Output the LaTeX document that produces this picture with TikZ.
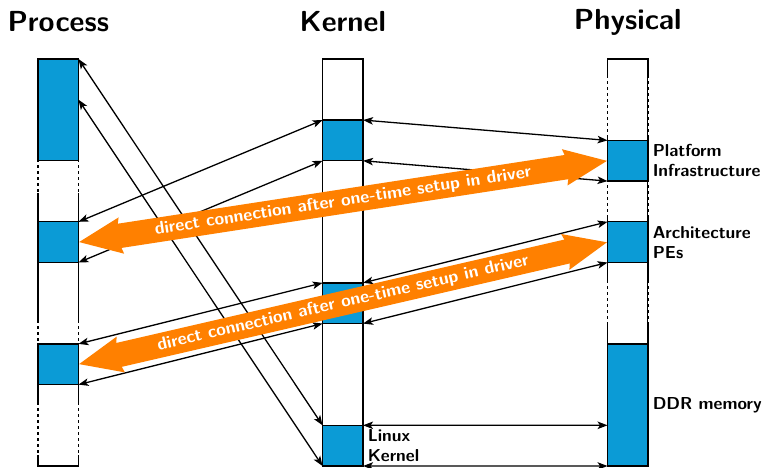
\documentclass[tikz,border=0pt]{standalone}
\usetikzlibrary{arrows.meta,calc}
\definecolor{memblue}{RGB}{11,155,214}
\definecolor{fatorange}{RGB}{255,128,0}
\begin{document}
\begin{tikzpicture}[x=1pt,y=-1pt,
  col/.style={draw=black, line width=1.3pt, minimum width=40.5pt, minimum height=407pt, inner sep=0pt, outer sep=0pt},
  mem/.style={fill=memblue, draw=black, line width=1.3pt, minimum width=40.5pt, inner sep=0pt, outer sep=0pt},
  link/.style={line width=1.3pt, {Stealth[length=10pt,width=7.5pt,inset=2.5pt]}-{Stealth[length=10pt,width=7.5pt,inset=2.5pt]}},
  fat/.style={fatorange, line width=24.5pt, {Stealth[length=42pt,width=34pt,inset=4pt]}-{Stealth[length=42pt,width=34pt,inset=4pt]}},
  fattext/.style={midway, sloped, text=white, inner sep=0pt, font=\sffamily\bfseries\fontsize{17.5}{20}\selectfont},
  title/.style={font=\sffamily\bfseries\fontsize{29}{34}\selectfont, inner sep=0pt},
  lbl/.style={font=\sffamily\bfseries\fontsize{17.3}{20}\selectfont, align=left, anchor=west, inner sep=4.5pt},
  gap/.style={white, line width=1.6pt, dash pattern=on 3pt off 3pt}]
\useasboundingbox (0,0) rectangle (763,467);

% titles
\node[title] (tp) at (58.25,22) {Process};
\node[title] (tk) at (342.8,22) {Kernel};
\node[title] (tf) at (627.8,22) {Physical};

% columns
\node[col] (pcol) at (58.25,262.5) {};
\node[col] (kcol) at (342.8,262.5) {};
\node[col] (fcol) at (627.8,262.5) {};

% memory regions
\node[mem, minimum height=101.75pt] (p1) at (58.25,109.875) {};
\node[mem, minimum height=40.7pt] (p2) at (58.25,242.15) {};
\node[mem, minimum height=40.7pt] (p3) at (58.25,364.25) {};
\node[mem, minimum height=40.7pt] (k1) at (342.8,140.4) {};
\node[mem, minimum height=40.7pt] (k2) at (342.8,303.2) {};
\node[mem, minimum height=40.7pt] (k3) at (342.8,445.65) {};
\node[mem, minimum height=40.7pt] (f1) at (627.8,160.75) {};
\node[mem, minimum height=40.7pt] (f2) at (627.8,242.15) {};
\node[mem, minimum height=122.1pt] (f3) at (627.8,404.95) {};

% dashed gaps in the column borders
\foreach \xx in {38,78.5} {
  \draw[gap] (\xx,162) -- (\xx,193);
  \draw[gap] (\xx,323) -- (\xx,343);
  \draw[gap] (\xx,405) -- (\xx,455);
}
\foreach \xx in {607.3,648.3} {
  \draw[gap] (\xx,78) -- (\xx,137);
  \draw[gap] (\xx,182) -- (\xx,217);
  \draw[gap] (\xx,283) -- (\xx,323);
}

% mappings
\coordinate (p1b) at ($(p1.north east)!0.4!(p1.south east)$);
\coordinate (f3b) at ($(f3.north west)!0.6667!(f3.south west)$);
\draw[link] (p1.north east) -- (k3.north west);
\draw[link] (p1b) -- (k3.south west);
\draw[link] (p2.north east) -- (k1.north west);
\draw[link] (p2.south east) -- (k1.south west);
\draw[link] (p3.north east) -- (k2.north west);
\draw[link] (p3.south east) -- (k2.south west);
\draw[link] (k1.north east) -- (f1.north west);
\draw[link] (k1.south east) -- (f1.south west);
\draw[link] (k2.north east) -- (f2.north west);
\draw[link] (k2.south east) -- (f2.south west);
\draw[link] (k3.north east) -- (f3b);
\draw[link] (k3.south east) -- (f3.south west);

% direct connections
\draw[fat] (p2.east) -- (f1.west) node[fattext] (d1) {direct connection after one-time setup in driver};
\draw[fat] (p3.east) -- (f2.west) node[fattext] (d2) {direct connection after one-time setup in driver};

% labels
\node[lbl] (lf1) at (f1.east) {Platform\\Infrastructure};
\node[lbl] (lf2) at (f2.east) {Architecture\\PEs};
\node[lbl] (lf3) at (f3.east) {DDR memory};
\node[lbl] (lk3) at (k3.east) {Linux\\Kernel};
\end{tikzpicture}
\end{document}
